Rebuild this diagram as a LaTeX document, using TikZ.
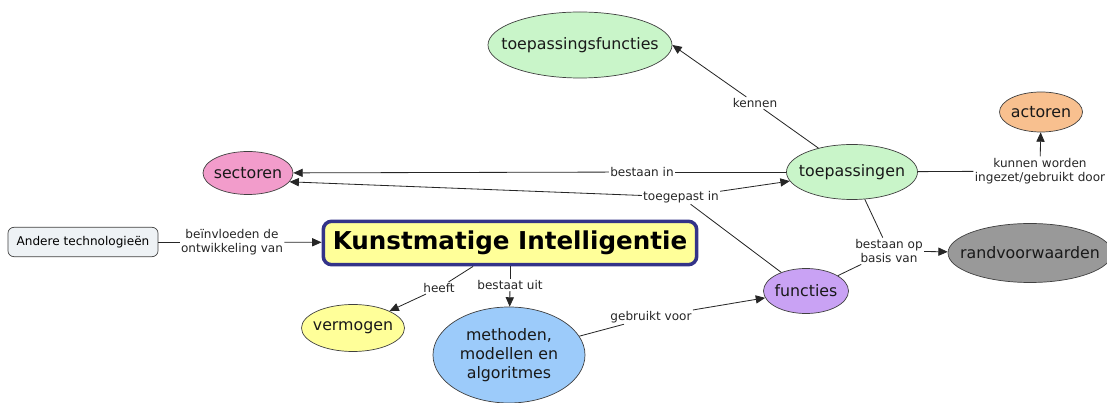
\documentclass[tikz,border=0pt]{standalone}
\usepackage{fontspec}
\setmainfont{DejaVu Sans}
\usetikzlibrary{shapes.geometric,arrows.meta}

\definecolor{kgreen}{HTML}{C9F5C9}
\definecolor{kpink}{HTML}{F29CCB}
\definecolor{korange}{HTML}{F8C08F}
\definecolor{kgray}{HTML}{999999}
\definecolor{kpurple}{HTML}{C9A2F4}
\definecolor{kyellow}{HTML}{FFFF99}
\definecolor{kblue}{HTML}{9CCBFA}
\definecolor{kpale}{HTML}{EEF2F5}
\definecolor{knavy}{HTML}{333388}

\begin{document}
\begin{tikzpicture}[x=0.03cm,y=-0.03cm,
    concept/.style={ellipse,draw=black!75,line width=0.6pt,inner sep=-2cm,
      text=black!90,font=\fontsize{13.5}{16.5}\selectfont,align=center},
    phrase/.style={fill=white,inner sep=1pt,text=black!85,
      font=\fontsize{10.3}{12.5}\selectfont,align=center},
    link/.style={line width=0.7pt,black!85},
    arr/.style={link,-{Triangle[length=8pt,width=7pt]}}]
\clip (0,0) rectangle (1107,403);

% concepten
\node[concept,fill=kgreen,minimum width=5.52cm,minimum height=1.98cm] (tfunc) at (580,45) {toepassingsfuncties};
\node[concept,fill=kpink,minimum width=2.7cm,minimum height=1.29cm] (sect) at (248,173) {sectoren};
\node[concept,fill=kgreen,minimum width=3.93cm,minimum height=1.65cm] (toep) at (852,172) {toepassingen};
\node[concept,fill=korange,minimum width=2.49cm,minimum height=1.2cm] (act) at (1041,112) {actoren};
\node[concept,fill=kgray,minimum width=4.92cm,minimum height=1.77cm] (rand) at (1030,253) {randvoorwaarden};
\node[concept,fill=kpurple,minimum width=2.55cm,minimum height=1.35cm] (func) at (806,291) {functies};
\node[concept,fill=kyellow,minimum width=3.09cm,minimum height=1.41cm] (verm) at (353,328) {vermogen};
\node[concept,fill=kblue,minimum width=4.56cm,minimum height=2.88cm] (meth) at (509,355) {methoden,\\modellen en\\algoritmes};
\node[draw=knavy,fill=kyellow,line width=3pt,rounded corners=7pt,minimum width=11.2cm,minimum height=1.3cm,
  font=\fontsize{21}{24}\bfseries\selectfont] (ki) at (510,243) {Kunstmatige Intelligentie};
\node[draw=black!75,fill=kpale,line width=0.6pt,rounded corners=5pt,minimum width=4.5cm,minimum height=0.88cm,
  font=\fontsize{10.3}{12.5}\selectfont] (andere) at (83,242) {Andere technologieën};

% verbindingswoorden
\node[phrase] (kennen) at (755,103) {kennen};
\node[phrase] (bestin) at (642,172) {bestaan in};
\node[phrase] (toegin) at (681,197) {toegepast in};
\node[phrase] (kunnen) at (1040,171) {kunnen worden\\ingezet/gebruikt door};
\node[phrase] (bestop) at (889,251) {bestaan op\\basis van};
\node[phrase] (beinv) at (232,242) {beïnvloeden de\\ontwikkeling van};
\node[phrase] (heeft) at (439,288) {heeft};
\node[phrase] (bestuit) at (510,285) {bestaat uit};
\node[phrase] (gebr) at (651,317) {gebruikt voor};

% verbindingen
\draw[link] (toep) -- (kennen);
\draw[arr] (kennen) -- (tfunc.east);
\draw[link] (toep) -- (bestin);
\draw[arr] (bestin) -- (sect);
\draw[link] (func) -- (toegin);
\draw[arr] (toegin) -- (sect.-12);
\draw[arr] (toegin) -- (toep);
\draw[link] (toep) -- (kunnen);
\draw[arr] (kunnen) -- (act);
\draw[link] (toep) -- (bestop);
\draw[link] (func) -- (bestop);
\draw[arr] (bestop) -- (rand);
\draw[link] (andere) -- (beinv);
\draw[arr] (beinv) -- (ki);
\draw[link] (ki) -- (heeft);
\draw[arr] (heeft) -- (verm);
\draw[link] (ki) -- (bestuit);
\draw[arr] (bestuit) -- (meth);
\draw[link] (meth) -- (gebr);
\draw[arr] (gebr) -- (func);
\end{tikzpicture}
\end{document}
